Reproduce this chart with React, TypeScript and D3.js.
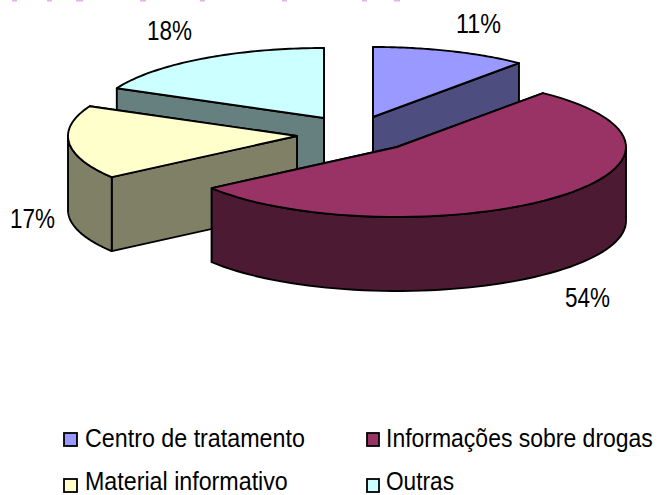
import React from "react";
import * as d3 from "d3";

const categories = ["Centro de tratamento", "Informações sobre drogas", "Material informativo", "Outras"];
const values = [11, 54, 17, 18];
const topColors = ["#9999FF", "#993366", "#FFFFCC", "#CCFFFF"];
const sideColors = ["#4D4D80", "#4D1A33", "#808066", "#668080"];
const apexes: [number, number][] = [[373, 117], [397, 147], [297, 136], [324, 118]];
const drawOrder = [3, 0, 2, 1];
const pctLabels = ["11%", "54%", "17%", "18%"];
const pctPos: [number, number][] = [[456, 33], [565, 307], [10, 228], [147, 40]];
const legendBox: [number, number, number, number][] = [[64, 433, 13, 13], [367, 433, 12, 13], [64, 479, 13, 13], [367, 479, 12, 13]];
const legendText: [number, number, number][] = [[85, 447, 220], [386, 447, 267], [85, 490, 203], [386, 490, 68]];
const titleDashes = [[12, 17], [47, 52], [76, 83], [140, 146], [200, 205], [282, 287], [362, 367], [394, 400]];

const RX = 229, RY = 70, DEPTH = 74;
const FONT = "'Liberation Sans', Arial, sans-serif";

const measureCtx = typeof document !== "undefined" ? document.createElement("canvas").getContext("2d") : null;
function textWidth(t: string, size: number) {
  if (!measureCtx) return t.length * size * 0.5;
  measureCtx.font = `${size}px ${FONT}`;
  return measureCtx.measureText(t).width;
}

function Squeezed({ t, x, y, w, size }: { t: string; x: number; y: number; w: number; size: number }) {
  const sx = w / textWidth(t, size);
  return (
    <text transform={`translate(${x},${y}) scale(${sx},1)`} fontFamily={FONT} fontSize={size} fill="#000">{t}</text>
  );
}

export default function App() {
  const arcs = d3.pie<number>().sort(null)(values);
  const px = (i: number, a: number): [number, number] => [apexes[i][0] + RX * Math.sin(a), apexes[i][1] - RY * Math.cos(a)];
  const line = d3.line();
  const arcPts = (i: number, a0: number, a1: number) => d3.range(0, 61).map((k) => px(i, a0 + ((a1 - a0) * k) / 60));
  const down = (p: [number, number]): [number, number] => [p[0], p[1] + DEPTH];

  return (
    <svg width={659} height={495} style={{ position: "absolute", left: 0, top: 0, background: "#fff" }}>
      {titleDashes.map(([a, b], i) => (
        <line key={i} x1={a} x2={b} y1={0.5} y2={0.5} stroke="#E3B0EA" strokeWidth={2} />
      ))}
      {drawOrder.map((i) => {
        const { startAngle: a0, endAngle: a1 } = arcs[i];
        const apex = apexes[i];
        const pts = arcPts(i, a0, a1);
        const wall = (p: [number, number]) => line([apex, p, down(p), down(apex)])! + "Z";
        const v0 = Math.max(a0, Math.PI / 2);
        const v1 = Math.min(a1, (3 * Math.PI) / 2);
        const vis = v1 > v0 ? arcPts(i, v0, v1) : [];
        const side = vis.length ? line([...vis, ...vis.slice().reverse().map(down)])! + "Z" : null;
        const top = line([apex, ...pts])! + "Z";
        const common = { stroke: "#000", strokeWidth: 1.9, strokeLinejoin: "round" as const };
        return (
          <g key={i}>
            <path d={wall(pts[pts.length - 1])} fill={sideColors[i]} {...common} />
            <path d={wall(pts[0])} fill={sideColors[i]} {...common} />
            {side && <path d={side} fill={sideColors[i]} {...common} />}
            <path d={top} fill={topColors[i]} {...common} />
          </g>
        );
      })}
      {pctLabels.map((t, i) => (
        <Squeezed key={t} t={t} x={pctPos[i][0]} y={pctPos[i][1]} w={45} size={27} />
      ))}
      {categories.map((c, i) => (
        <g key={c}>
          <rect x={legendBox[i][0]} y={legendBox[i][1]} width={legendBox[i][2]} height={legendBox[i][3]} fill={topColors[i]} stroke="#000" strokeWidth={1.8} />
          <Squeezed t={c} x={legendText[i][0]} y={legendText[i][1]} w={legendText[i][2]} size={25} />
        </g>
      ))}
    </svg>
  );
}
